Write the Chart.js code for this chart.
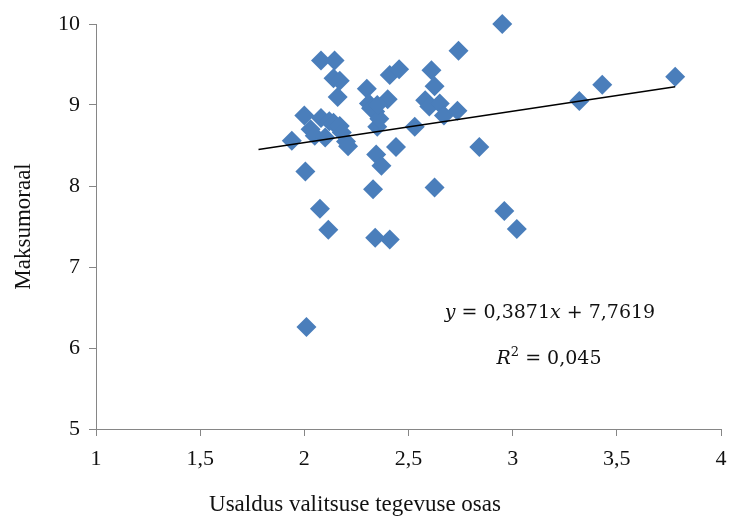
<!DOCTYPE html>
<html>
<head>
<meta charset="utf-8">
<script src="https://cdn.jsdelivr.net/npm/chart.js@4"></script>
<style>
  html, body { margin: 0; padding: 0; background: #fff; }
</style>
</head>
<body>
<canvas id="scatter" width="731" height="516"></canvas>
<script>
// survey answers: trust in government vs. tax morale
var trustValues = [1.94, 2.00, 2.03, 2.05, 2.08, 2.10, 2.12, 2.14, 2.17, 2.18, 2.20, 2.21,
  2.08, 2.145, 2.14, 2.17, 2.16, 2.005, 2.075, 2.115, 2.01,
  2.30, 2.31, 2.32, 2.34, 2.35, 2.36, 2.40, 2.41, 2.455, 2.33, 2.345, 2.37, 2.44, 2.34, 2.41, 2.35,
  2.53, 2.58, 2.60, 2.61, 2.625, 2.65, 2.67, 2.735, 2.74, 2.95, 2.625, 2.84, 2.96, 3.02,
  3.32, 3.43, 3.78];
var moraleValues = [8.56, 8.87, 8.70, 8.62, 8.84, 8.60, 8.80, 8.78, 8.74, 8.66, 8.55, 8.49,
  9.55, 9.55, 9.33, 9.30, 9.10, 8.18, 7.72, 7.46, 6.26,
  9.20, 9.02, 8.96, 8.92, 8.73, 8.83, 9.07, 9.37, 9.44, 7.96, 8.39, 8.25, 8.48, 7.36, 7.34, 9.00,
  8.73, 9.06, 8.98, 9.43, 9.23, 9.02, 8.87, 8.93, 9.67, 10.0, 7.98, 8.48, 7.69, 7.47,
  9.05, 9.25, 9.35];
var xTickLabels = ['1', '1,5', '2', '2,5', '3', '3,5', '4'];
var yTickLabels = ['5', '6', '7', '8', '9', '10'];
var trendSlope = 0.3871;
var trendIntercept = 7.7619;
var trendRange = [1.78, 3.78];
var rSquared = 0.045;

var points = trustValues.map(function (x, i) { return { x: x, y: moraleValues[i] }; });
var trendPoints = trendRange.map(function (x) { return { x: x, y: trendSlope * x + trendIntercept }; });

function commaNum(v, digits) {
  return v.toFixed(digits).replace('.', ',');
}

var serif = '"Liberation Serif", "Times New Roman", serif';
var mathFont = '"DejaVu Serif", serif';
var axisGray = '#868686';

// draws a line of text made of several font runs, centred on cx
function drawRuns(ctx, runs, cx, baseline) {
  var total = 0;
  runs.forEach(function (r) {
    ctx.font = r.font;
    r.w = ctx.measureText(r.text).width;
    total += r.w;
  });
  var x = cx - total / 2;
  runs.forEach(function (r) {
    ctx.font = r.font;
    ctx.fillText(r.text, x, baseline + (r.dy || 0));
    x += r.w;
  });
}

var extraText = {
  id: 'extraText',
  afterDraw: function (chart) {
    var ctx = chart.ctx;
    var area = chart.chartArea;
    ctx.save();
    ctx.fillStyle = '#111';
    ctx.textBaseline = 'alphabetic';
    ctx.textAlign = 'left';

    var it = 'italic 19px ' + mathFont;
    var rg = '19px ' + mathFont;
    drawRuns(ctx, [
      { text: 'y', font: it },
      { text: ' = ' + commaNum(trendSlope, 4), font: rg },
      { text: 'x', font: it },
      { text: ' + ' + commaNum(trendIntercept, 4), font: rg }
    ], 550, area.top + 294);
    drawRuns(ctx, [
      { text: 'R', font: it },
      { text: '2', font: '13px ' + mathFont, dy: -8 },
      { text: ' = ' + commaNum(rSquared, 3), font: rg }
    ], 549, area.top + 340);

    // x axis title sits left of the plot centre
    drawRuns(ctx, [{ text: 'Usaldus valitsuse tegevuse osas', font: '23px ' + serif }], 355, 511);
    ctx.restore();
  }
};

new Chart(document.getElementById('scatter'), {
  type: 'scatter',
  data: {
    datasets: [{
      type: 'line',
      data: trendPoints,
      borderColor: '#000',
      borderWidth: 1.5,
      pointRadius: 0,
      fill: false,
      order: 0
    }, {
      data: points,
      pointStyle: 'rectRot',
      pointRadius: 10,
      pointHoverRadius: 10,
      backgroundColor: '#4a7ebb',
      borderColor: '#4a7ebb',
      borderWidth: 0,
      clip: false,
      order: 1
    }]
  },
  options: {
    responsive: false,
    animation: false,
    devicePixelRatio: 1,
    layout: { padding: { top: 24, right: 0, left: 0, bottom: 0 } },
    plugins: {
      legend: { display: false },
      tooltip: { enabled: false }
    },
    scales: {
      x: {
        type: 'linear',
        min: 1,
        max: 4,
        ticks: {
          stepSize: 0.5,
          padding: 10,
          color: '#111',
          font: { family: serif, size: 22 },
          maxRotation: 0,
          callback: function (v, i) { return xTickLabels[i]; }
        },
        grid: { drawOnChartArea: false, tickLength: 7, color: axisGray },
        border: { color: axisGray, width: 1 },
        afterFit: function (scale) {
          scale.height = 87;
          scale.paddingRight = 2;
        }
      },
      y: {
        min: 5,
        max: 10,
        ticks: {
          stepSize: 1,
          padding: 9,
          color: '#111',
          font: { family: serif, size: 22 },
          callback: function (v, i) { return yTickLabels[i]; }
        },
        grid: { drawOnChartArea: false, tickLength: 7, color: axisGray },
        border: { color: axisGray, width: 1 },
        title: {
          display: true,
          text: 'Maksumoraal',
          color: '#111',
          font: { family: serif, size: 23 },
          padding: { top: 10, bottom: 0 }
        },
        afterFit: function (scale) { scale.width = 96; }
      }
    }
  },
  plugins: [extraText]
});
</script>
</body>
</html>
